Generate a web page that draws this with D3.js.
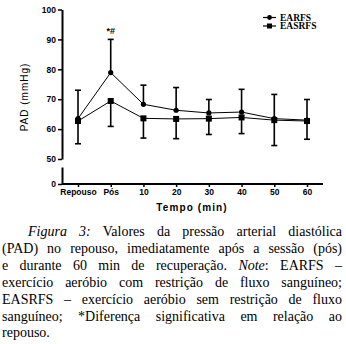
<!DOCTYPE html>
<html><head><meta charset="utf-8">
<script src="https://cdn.jsdelivr.net/npm/d3@7"></script>
<style>
html,body{margin:0;padding:0;background:#fff;}
#wrap{position:relative;width:346px;height:344px;overflow:hidden;}
svg{position:absolute;left:0;top:0;}
#cap{position:absolute;left:2px;top:224px;width:340px;font-family:"Liberation Serif","Times New Roman",serif;font-size:14px;line-height:16.9px;color:#000;}
#cap div{text-align:justify;text-align-last:justify;white-space:nowrap;}
#cap div.last{text-align-last:left;}
</style></head>
<body><div id="wrap"><svg id="chart" width="346" height="222"></svg><div id="cap"></div></div>
<script>
const categories = ["Repouso","Pós","10","20","30","40","50","60"];
const earfs = [63.5, 78.9, 68.3, 66.3, 65.4, 65.7, 63.5, 63.0];
const earfsErrUp = [73.0, 90.0, 74.7, 73.9, 69.9, 73.3, 71.6, 69.9];
const easrfs = [62.7, 69.4, 63.6, 63.4, 63.5, 63.9, 63.0, 62.7];
const easrfsErrDown = [55.1, 60.9, 57.0, 56.8, 58.2, 58.5, 54.5, 56.6];
const yTicksUpper = [50, 60, 70, 80, 90, 100];
const yTicksLower = [0];
const seriesNames = ["EARFS", "EASRFS"];
const captionLines = [
  ["<i>Figura 3:</i> Valores da pressão arterial diastólica", true],
  ["(PAD) no repouso, imediatamente após a sessão (pós)", false],
  ["e durante 60 min de recuperação. <i>Note</i>: EARFS –", false],
  ["exercício aeróbio com restrição de fluxo sanguíneo;", false],
  ["EASRFS – exercício aeróbio sem restrição de fluxo", false],
  ["sanguíneo; *Diferença significativa em relação ao", false],
  ["repouso.", false]
];

const svg = d3.select("#chart");
const x = d3.scalePoint().domain(categories).range([78, 307]);
const y = d3.scaleLinear().domain([50, 100]).range([159, 9.5]);
const yLow = d3.scaleLinear().domain([0, 5.6]).range([184, 167]);

const fontAxis = "'Liberation Sans', Arial, sans-serif";

const gy = svg.append("g").attr("transform", "translate(62,0)")
  .call(d3.axisLeft(y).tickValues(yTicksUpper).tickFormat(d3.format("d")).tickSize(4).tickSizeOuter(0).tickPadding(2));
const gy2 = svg.append("g").attr("transform", "translate(62,0)")
  .call(d3.axisLeft(yLow).tickValues(yTicksLower).tickFormat(d3.format("d")).tickSize(4).tickSizeOuter(0).tickPadding(2));
const gx = svg.append("g").attr("transform", "translate(0,184)")
  .call(d3.axisBottom(x).tickSize(3).tickSizeOuter(0).tickPadding(2));
gx.select(".domain").attr("d", "M62,0H323");

[gy, gy2, gx].forEach(g => {
  g.select(".domain").attr("stroke", "#000").attr("stroke-width", 2);
  g.selectAll(".tick line").attr("stroke", "#000").attr("stroke-width", 1.5);
  g.selectAll(".tick text").attr("fill", "#000").style("font-family", fontAxis)
    .style("font-weight", "bold").style("font-size", "8.5px");
});
gx.selectAll(".tick text").style("font-size", "8.5px").attr("dy", "0.75em");

svg.append("text").attr("x", 192).attr("y", 211).attr("text-anchor", "middle")
  .style("font-family", fontAxis).style("font-weight", "bold").style("font-size", "10px")
  .style("letter-spacing", "1.1px").text("Tempo (min)");
svg.append("text").attr("transform", "translate(28,97) rotate(-90)").attr("text-anchor", "middle")
  .style("font-family", fontAxis).style("font-size", "10px")
  .style("letter-spacing", "1px").text("PAD (mmHg)");

const capW = 3;
function errBars(vals, ends) {
  const g = svg.append("g").attr("stroke", "#000").attr("stroke-width", 1.6);
  categories.forEach((c, i) => {
    const cx = x(c);
    g.append("line").attr("x1", cx).attr("x2", cx).attr("y1", y(vals[i])).attr("y2", y(ends[i]));
    g.append("line").attr("x1", cx - capW).attr("x2", cx + capW).attr("y1", y(ends[i])).attr("y2", y(ends[i]));
  });
}
errBars(earfs, earfsErrUp);
errBars(easrfs, easrfsErrDown);

const line = d3.line().x((d, i) => x(categories[i])).y(d => y(d));
svg.append("path").datum(earfs).attr("d", line).attr("fill", "none").attr("stroke", "#000").attr("stroke-width", 1);
svg.append("path").datum(easrfs).attr("d", line).attr("fill", "none").attr("stroke", "#000").attr("stroke-width", 1);

svg.append("g").selectAll("circle").data(earfs).join("circle")
  .attr("cx", (d, i) => x(categories[i])).attr("cy", d => y(d)).attr("r", 2.6).attr("fill", "#000");
svg.append("g").selectAll("rect").data(easrfs).join("rect")
  .attr("x", (d, i) => x(categories[i]) - 3).attr("y", d => y(d) - 3)
  .attr("width", 6).attr("height", 6).attr("fill", "#000");

svg.append("text").attr("x", x("Pós")).attr("y", 34).attr("text-anchor", "middle")
  .style("font-family", fontAxis).style("font-weight", "bold").style("font-size", "9px").text("*#");

const leg = svg.append("g");
seriesNames.forEach((name, i) => {
  const ly = 17.5 + i * 8.5;
  leg.append("line").attr("x1", 263).attr("x2", 276).attr("y1", ly).attr("y2", ly).attr("stroke", "#000").attr("stroke-width", 1.2);
  if (i === 0) leg.append("circle").attr("cx", 269.5).attr("cy", ly).attr("r", 2.4).attr("fill", "#000");
  else leg.append("rect").attr("x", 267).attr("y", ly - 2.5).attr("width", 5).attr("height", 5).attr("fill", "#000");
  leg.append("text").attr("x", 280).attr("y", ly).attr("dy", "0.35em")
    .style("font-family", "'Liberation Serif', serif").style("font-weight", "bold").style("font-size", "9.5px")
    .text(name);
});

const cap = d3.select("#cap");
captionLines.forEach(([html, indent], i) => {
  cap.append("div").attr("class", i === captionLines.length - 1 ? "last" : null)
    .style("padding-left", indent ? "26px" : "0px").html(html);
});
</script></body></html>
